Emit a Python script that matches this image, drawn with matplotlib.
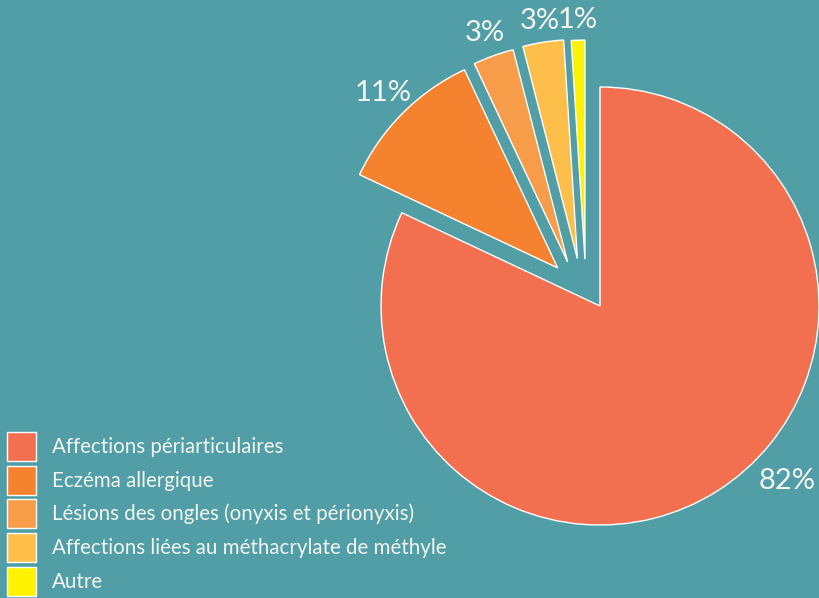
import numpy as np
import matplotlib
matplotlib.use("Agg")
import matplotlib.pyplot as plt

categories = ["Affections périarticulaires", "Eczéma allergique",
              "Lésions des ongles (onyxis et périonyxis)",
              "Affections liées au méthacrylate de méthyle", "Autre"]
values = [82, 11, 3, 3, 1]
pct_labels = ["82%", "11%", "3%", "3%", "1%"]

colors = ["#F2704F", "#F4822E", "#F79C48", "#FEBF4A", "#FFF200"]
bg = "#519EA7"
txt = "#F2F5F0"
# explosion distance (radius units) and direction shift (deg) relative to mid-angle
explode_dist = [0.0, 0.26, 0.25, 0.24, 0.225]
explode_shift = [0, 3, 16.5, 16.5, 16]
label_dist = [1.17, 1.13, 1.11, 1.10, 1.09]
label_shift = [14.5, 0, 0, 0, 0]

plt.rcParams['font.family'] = ['Lato', 'DejaVu Sans']
fig = plt.figure(figsize=(8.19, 5.98), dpi=100, facecolor=bg)
ax = fig.add_axes([0, 0, 1, 1])
ax.set_facecolor(bg)
ax.axis('off')

wedges, _ = ax.pie(values, colors=colors, startangle=90, counterclock=False,
                   radius=1.0, wedgeprops=dict(edgecolor="white", linewidth=1.0))

for w, d, s, dl, ls, lab in zip(wedges, explode_dist, explode_shift,
                                 label_dist, label_shift, pct_labels):
    mid = np.deg2rad((w.theta1 + w.theta2) / 2 + s)
    cx, cy = d * np.cos(mid), d * np.sin(mid)
    w.set_center((cx, cy))
    lmid = np.deg2rad((w.theta1 + w.theta2) / 2 + ls)
    ax.text(cx + dl * np.cos(lmid), cy + dl * np.sin(lmid), lab,
            ha='center', va='center', color=txt, fontsize=21)

ax.set_xlim(-600 / 219, 219 / 219)
ax.set_ylim(-292 / 219, 306 / 219)
ax.set_aspect('auto')

leg = fig.legend(wedges, categories, loc='upper left',
                 bbox_to_anchor=(0.0085, 1 - 432 / 598), frameon=False,
                 fontsize=14.8, labelcolor=txt, handlelength=1.41, handleheight=1.79,
                 labelspacing=0.23, handletextpad=0.8, borderpad=0, borderaxespad=0)
for h in leg.legend_handles:
    h.set_edgecolor("white")
    h.set_linewidth(1.0)

fig.savefig("out.png", dpi=100, facecolor=bg)
